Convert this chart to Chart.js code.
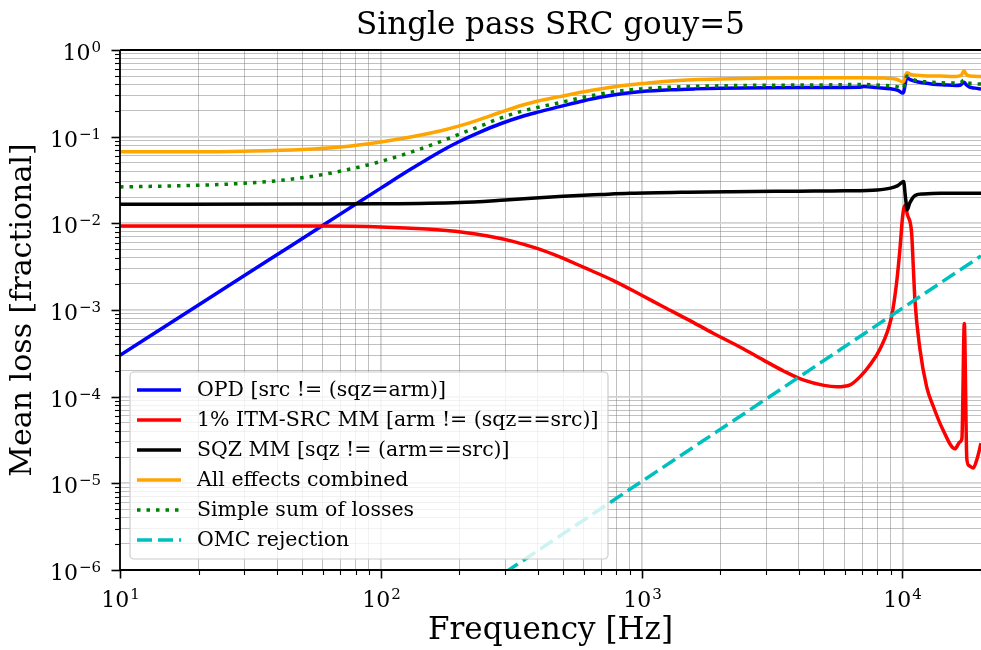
<!DOCTYPE html>
<html>
<head>
<meta charset="utf-8">
<script src="https://cdn.jsdelivr.net/npm/chart.js@4.4.1/dist/chart.umd.min.js"></script>
<style>
  html, body { margin: 0; padding: 0; background: #fff; overflow: hidden; }
  #wrap { width: 981px; height: 650px; }
</style>
</head>
<body>
<div id="wrap"><canvas id="lossChart" width="981" height="650"></canvas></div>
<script>
// values (frequency in Hz, loss as a fraction)
const opdFreq = [10, 20, 30, 45, 60, 80, 100, 130, 170, 200, 240, 286, 350, 400, 485, 600, 692, 850, 1000, 1300, 1600, 2000, 3000, 4000, 5000, 6000, 6800, 7100, 8000, 9000, 9600, 10050, 10400, 10700, 11200, 12000, 13100, 14500, 16000, 16700, 17200, 17600, 18100, 19000, 20000];
const opdLoss = [3.0e-4, 1.14e-3, 2.5e-3, 5.45e-3, 9.5e-3, 0.0166, 0.0255, 0.042, 0.068, 0.088, 0.113, 0.14, 0.172, 0.192, 0.222, 0.26, 0.285, 0.315, 0.332, 0.348, 0.356, 0.362, 0.368, 0.37, 0.37, 0.37, 0.371, 0.378, 0.368, 0.357, 0.343, 0.318, 0.48, 0.455, 0.435, 0.418, 0.403, 0.395, 0.39, 0.395, 0.425, 0.395, 0.372, 0.363, 0.355];

const itmFreq = [10, 30, 60, 100, 150, 206, 260, 321, 400, 485, 600, 776, 1000, 1210, 1500, 1880, 2400, 2920, 3500, 4160, 5000, 5600, 6300, 7000, 7400, 8180, 9080, 9490, 9770, 10010, 10200, 10450, 10840, 11000, 11160, 11670, 12380, 13130, 14320, 15900, 16600, 16900, 17260, 17650, 18000, 18680, 19300, 20000];
const itmLoss = [0.0093, 0.0093, 0.0093, 0.0091, 0.0086, 0.0079, 0.0071, 0.0062, 0.0051, 0.0041, 0.0031, 0.0022, 0.00148, 0.00109, 0.00078, 0.00054, 0.00037, 0.000266, 0.000198, 0.000156, 0.000135, 0.00013, 0.000137, 0.00018, 0.00022, 0.00035, 0.00084, 0.00204, 0.0049, 0.0119, 0.016, 0.0125, 0.0077, 0.0032, 0.0013, 0.00035, 0.00013, 7.7e-5, 4.1e-5, 2.5e-5, 3.0e-5, 3.3e-5, 7.0e-4, 1.9e-5, 1.6e-5, 1.5e-5, 1.9e-5, 2.9e-5];

const sqzFreq = [10, 50, 100, 200, 300, 500, 700, 900, 1500, 2200, 4000, 6000, 8000, 9000, 9600, 10100, 10250, 10430, 10650, 11200, 12000, 14000, 20000];
const sqzLoss = [0.0166, 0.0167, 0.0168, 0.0174, 0.0186, 0.0205, 0.0215, 0.0222, 0.0229, 0.0232, 0.0235, 0.0237, 0.0243, 0.0255, 0.0272, 0.0303, 0.021, 0.0143, 0.017, 0.021, 0.0218, 0.0222, 0.0222];

const allFreq = [10, 20, 30, 50, 70, 100, 130, 170, 200, 240, 286, 350, 400, 485, 600, 692, 850, 1000, 1300, 2000, 3000, 5000, 7000, 8500, 9500, 10050, 10400, 10800, 12000, 14000, 16000, 16800, 17200, 17600, 18200, 20000];
const allLoss = [0.067, 0.067, 0.068, 0.071, 0.076, 0.087, 0.099, 0.117, 0.133, 0.158, 0.19, 0.232, 0.258, 0.29, 0.33, 0.355, 0.39, 0.41, 0.44, 0.462, 0.475, 0.48, 0.48, 0.475, 0.46, 0.425, 0.545, 0.52, 0.505, 0.50, 0.495, 0.51, 0.575, 0.52, 0.50, 0.495];

const sumFreq = [10, 20, 30, 40, 55, 70, 96, 130, 173, 200, 240, 286, 350, 400, 485, 600, 692, 850, 1000, 1300, 2000, 3000, 5000, 7000, 8500, 9600, 10050, 10400, 11000, 13000, 16000, 16700, 17200, 17600, 20000];
const sumLoss = [0.0263, 0.0275, 0.029, 0.031, 0.035, 0.040, 0.050, 0.066, 0.090, 0.107, 0.132, 0.163, 0.198, 0.218, 0.247, 0.285, 0.31, 0.34, 0.356, 0.373, 0.386, 0.392, 0.395, 0.40, 0.39, 0.375, 0.36, 0.50, 0.455, 0.425, 0.415, 0.42, 0.45, 0.42, 0.405];

const omcFreq = [300, 1000, 3000, 10000, 20000];
const omcLoss = [9.4e-7, 1.05e-5, 9.4e-5, 1.05e-3, 4.2e-3];

const seriesLabels = [
  'OPD [src != (sqz=arm)]',
  '1% ITM-SRC MM [arm != (sqz==src)]',
  'SQZ MM [sqz != (arm==src)]',
  'All effects combined',
  'Simple sum of losses',
  'OMC rejection'
];
const seriesColors = ['#0000ff', '#ff0000', '#000000', '#ffa500', '#008000', '#00bfbf'];
const seriesDashes = [[], [], [], [], [3.5, 6], [15, 6]];

const FONT = '"DejaVu Serif", "Liberation Serif", serif';

function toPoints(freq, loss) {
  return freq.map((f, i) => ({ x: f, y: loss[i] }));
}

function isMajor(v) {
  if (!v) return false;
  const e = Math.log10(v);
  return Math.abs(e - Math.round(e)) < 1e-9;
}

// 1..9 x 10^n ticks for a log axis
function decadeTicks(scale) {
  const ticks = [];
  const lo = Math.floor(Math.log10(scale.min));
  const hi = Math.ceil(Math.log10(scale.max));
  for (let e = lo; e <= hi; e++) {
    for (let m = 1; m < 10; m++) {
      const v = parseFloat((m * Math.pow(10, e)).toPrecision(6));
      if (v >= scale.min * 0.999999 && v <= scale.max * 1.000001) ticks.push({ value: v, major: m === 1 });
    }
  }
  scale.ticks = ticks;
}

const gridOpts = {
  drawTicks: false,
  color: ctx => (ctx.tick && isMajor(ctx.tick.value)) ? '#d2d2d2' : 'rgba(110,110,110,0.55)',
  lineWidth: ctx => (ctx.tick && isMajor(ctx.tick.value)) ? 1.8 : 0.8
};

function drawPower(ctx, exp, x, y, align, baseShift, supShift) {
  const base = '10';
  const sup = exp < 0 ? '\u2212' + (-exp) : String(exp);
  ctx.font = '22px ' + FONT;
  const bw = ctx.measureText(base).width;
  ctx.font = '15px ' + FONT;
  const sw = ctx.measureText(sup).width;
  const total = bw + 1 + sw;
  const left = align === 'right' ? x - total : x - total / 2;
  ctx.textAlign = 'left';
  ctx.textBaseline = 'alphabetic';
  ctx.fillStyle = '#000';
  ctx.font = '22px ' + FONT;
  ctx.fillText(base, left, y + baseShift);
  ctx.font = '15px ' + FONT;
  ctx.fillText(sup, left + bw + 1, y + supShift);
}

// spines, outward ticks with 10^n labels, legend box in lower left
const axisDecor = {
  id: 'axisDecor',
  afterDraw(chart) {
    const { ctx, chartArea: a, scales: { x, y } } = chart;
    ctx.save();
    ctx.strokeStyle = '#000';
    ctx.lineCap = 'butt';

    y.ticks.forEach(t => {
      const py = Math.round(y.getPixelForValue(t.value)) + 0.5;
      const major = isMajor(t.value);
      ctx.lineWidth = major ? 1.6 : 1.1;
      ctx.beginPath();
      ctx.moveTo(a.left, py);
      ctx.lineTo(a.left - (major ? 8.5 : 5), py);
      ctx.stroke();
      if (major) drawPower(ctx, Math.round(Math.log10(t.value)), 101, py, 'right', 9, 1.5);
    });

    x.ticks.forEach(t => {
      const px = Math.round(x.getPixelForValue(t.value)) + 0.5;
      const major = isMajor(t.value);
      ctx.strokeStyle = '#000';
      ctx.lineWidth = major ? 1.6 : 1.1;
      ctx.beginPath();
      ctx.moveTo(px, a.bottom);
      ctx.lineTo(px, a.bottom + (major ? 8.5 : 5));
      ctx.stroke();
      if (major) drawPower(ctx, Math.round(Math.log10(t.value)), px, a.bottom, 'center', 36.5, 29);
    });

    ctx.strokeStyle = '#000';
    ctx.lineWidth = 1.8;
    ctx.beginPath();
    ctx.moveTo(a.left, a.top);
    ctx.lineTo(a.left, a.bottom);
    ctx.lineTo(a.right + 2, a.bottom);
    ctx.moveTo(a.left, a.top);
    ctx.lineTo(a.right + 2, a.top);
    ctx.stroke();

    // legend
    const bx = 130, by = 372, bw = 478, bh = 187;
    ctx.beginPath();
    ctx.roundRect(bx, by, bw, bh, 4);
    ctx.fillStyle = 'rgba(255,255,255,0.8)';
    ctx.fill();
    ctx.strokeStyle = '#cccccc';
    ctx.lineWidth = 1.2;
    ctx.stroke();

    chart.data.datasets.forEach((ds, i) => {
      const ly = 390 + i * 30;
      ctx.strokeStyle = ds.borderColor;
      ctx.lineWidth = ds.borderWidth;
      ctx.setLineDash(ds.borderDash || []);
      ctx.beginPath();
      ctx.moveTo(137, ly);
      ctx.lineTo(181, ly);
      ctx.stroke();
      ctx.setLineDash([]);
      ctx.fillStyle = '#000';
      ctx.font = '20.5px ' + FONT;
      ctx.textAlign = 'left';
      ctx.textBaseline = 'middle';
      ctx.fillText(ds.label, 197, ly + 1);
    });
    ctx.restore();
  }
};

const seriesData = [
  toPoints(opdFreq, opdLoss),
  toPoints(itmFreq, itmLoss),
  toPoints(sqzFreq, sqzLoss),
  toPoints(allFreq, allLoss),
  toPoints(sumFreq, sumLoss),
  toPoints(omcFreq, omcLoss)
];

const lossChart = new Chart(document.getElementById('lossChart').getContext('2d'), {
  type: 'line',
  data: {
    datasets: seriesData.map((pts, i) => ({
      label: seriesLabels[i],
      data: pts,
      borderColor: seriesColors[i],
      backgroundColor: seriesColors[i],
      borderDash: seriesDashes[i],
      borderWidth: 3.5,
      pointRadius: 0,
      fill: false,
      order: seriesData.length - i,
      cubicInterpolationMode: 'monotone'
    }))
  },
  options: {
    responsive: false,
    animation: false,
    layout: { padding: 0 },
    plugins: {
      legend: { display: false },
      tooltip: { enabled: false },
      title: {
        display: true,
        fullSize: false,
        text: 'Single pass SRC gouy=5',
        color: '#000',
        font: { family: FONT, size: 31, weight: 'normal' },
        padding: { top: 7, bottom: 5.8 }
      }
    },
    scales: {
      x: {
        type: 'logarithmic',
        min: 10,
        max: 20000,
        bounds: 'data',
        afterBuildTicks: decadeTicks,
        afterFit: s => { s.height = 80; },
        ticks: { display: false },
        border: { display: false },
        grid: gridOpts,
        title: {
          display: true,
          text: 'Frequency [Hz]',
          color: '#000',
          font: { family: FONT, size: 31 },
          padding: { top: 0, bottom: 0 }
        }
      },
      y: {
        type: 'logarithmic',
        min: 1e-6,
        max: 1,
        bounds: 'data',
        afterBuildTicks: decadeTicks,
        afterFit: s => { s.width = 120; },
        ticks: { display: false },
        border: { display: false },
        grid: gridOpts,
        title: {
          display: true,
          text: 'Mean loss [fractional]',
          color: '#000',
          font: { family: FONT, size: 30 },
          padding: { top: 5, bottom: 0 }
        }
      }
    }
  },
  plugins: [axisDecor]
});
</script>
</body>
</html>
